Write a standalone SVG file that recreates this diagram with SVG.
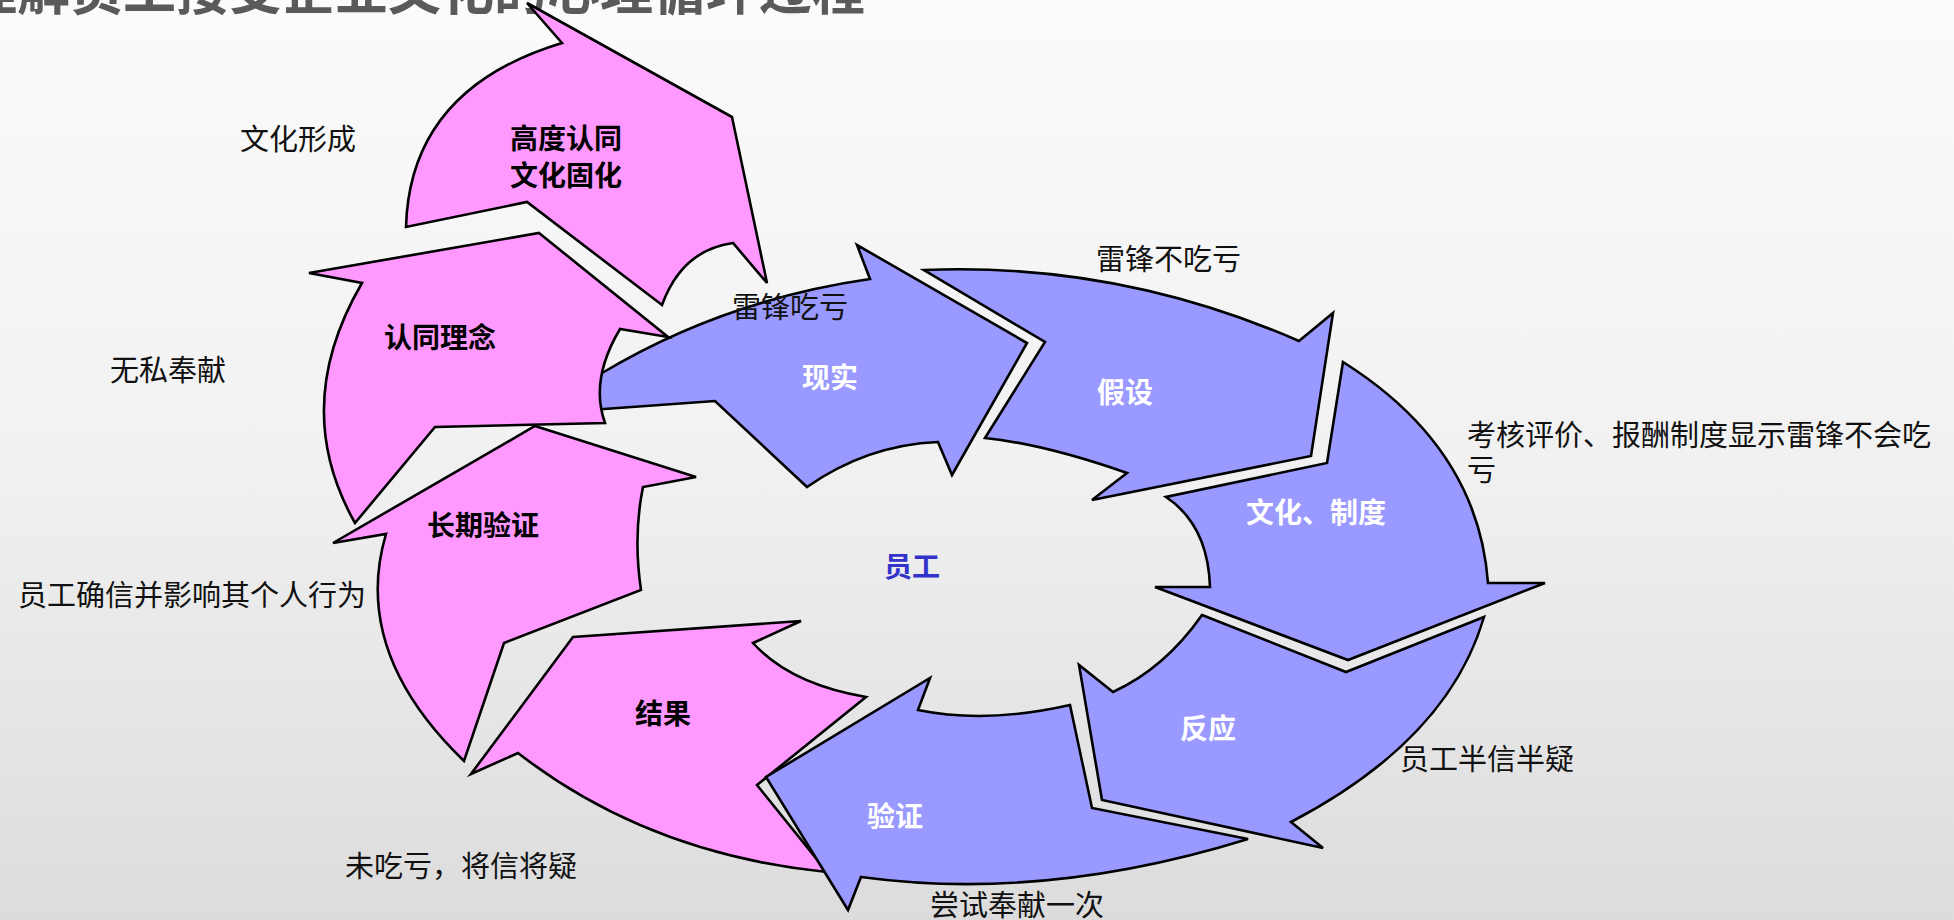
<svg xmlns="http://www.w3.org/2000/svg" width="1954" height="920" viewBox="0 0 1954 920">
<defs>
<linearGradient id="bg" x1="0" y1="0" x2="0" y2="1">
<stop offset="0" stop-color="#fbfbfb"/>
<stop offset="0.5" stop-color="#f1f1f1"/>
<stop offset="1" stop-color="#dcdcdc"/>
</linearGradient>
<style>
.pink{fill:#ff99ff;stroke:#000;stroke-width:2.6;stroke-linejoin:miter}
.blue{fill:#9999ff;stroke:#000;stroke-width:2.6;stroke-linejoin:miter}
.lbl{font-family:"Noto Sans CJK SC","Noto Sans",sans-serif;font-size:28px;font-weight:bold;text-anchor:middle;dominant-baseline:central}
.dark{fill:#000}
.white{fill:#fff}
.note{font-family:"Noto Sans CJK SC","Noto Sans",sans-serif;font-size:29px;fill:#111;dominant-baseline:central}
.title{font-family:"Noto Sans CJK SC","Noto Sans",sans-serif;font-size:53px;font-weight:bold;fill:#5a5a5a}
</style>
</defs>
<rect x="0" y="0" width="1954" height="920" fill="url(#bg)"/>
<text class="title" x="-36" y="10">理解员工接受企业文化的心理循环过程</text>

<g id="n-xianshi">
<path class="blue" d="M602,373 Q724,300 870,279 L857,245 L1027,343 L952,475 L938,442 Q867,445 807,487 L715,401 L604,409 L590,410 L588,376 Z"/>
<text class="lbl white" x="830" y="376">现实</text>
</g>
<g id="n-rentong">
<path class="pink" d="M539,233 L668,337 L620,329 Q589.5,380 605,423 L435,427 L355,523 Q289.5,407 362,283 L309,273 Z"/>
<text class="lbl dark" x="440" y="336">认同理念</text>
</g>
<g id="n-gaodu">
<path class="pink" d="M732,117 L527,3 L562,43 Q410,89 406,227 L527,202 L662,305 Q682,250 733,243 L767,283 Z"/>
<text class="lbl dark" x="566" y="137">高度认同</text>
<text class="lbl dark" x="566" y="174">文化固化</text>
</g>
<g id="n-changqi">
<path class="pink" d="M535,426 L696,477 L643,487 Q633,536 641,590 L504,643 L464,761 Q351,652 386,534 L333,543 Z"/>
<text class="lbl dark" x="483" y="524">长期验证</text>
</g>
<g id="n-jieguo">
<path class="pink" d="M573,637 L801,621 L753,643 Q790,684 866,697 L757,785 L827,872 Q648,854 518,753 L471,774 Z"/>
<text class="lbl dark" x="663" y="712">结果</text>
</g>
<g id="n-jiashe">
<path class="blue" d="M924,270 Q1118,262 1299,341 L1333,313 L1311,456 L1092,500 L1127,473 Q1044,444 985,438 L1045,342 Z"/>
<text class="lbl white" x="1125" y="391">假设</text>
</g>
<g id="n-zhidu">
<path class="blue" d="M1343,362 Q1478,447 1488,583 L1545,583 L1348,660 L1155,587 L1210,587 Q1208,525 1166,497 L1327,463 Z"/>
<text class="lbl white" x="1316" y="511">文化、制度</text>
</g>
<g id="n-fanying">
<path class="blue" d="M1202,615 L1346,672 L1484,617 Q1448,740 1291,822 L1323,848 L1102,800 L1079,665 L1113,692 Q1165,668 1202,615 Z"/>
<text class="lbl white" x="1208" y="727">反应</text>
</g>
<g id="n-yanzheng">
<path class="blue" d="M1248,839 L1092,808 L1070,705 Q986,724 918,710 L930,678 L766,777 L848,910 L861,877 Q1045,902 1248,839 Z"/>
<text class="lbl white" x="895" y="815">验证</text>
</g>
<g id="n-yuangong">
<text class="lbl" x="912" y="565" fill="#3333cc">员工</text>
</g>

<g id="notes">
<text class="note" x="240" y="137">文化形成</text>
<text class="note" x="110" y="368">无私奉献</text>
<text class="note" x="18" y="593">员工确信并影响其个人行为</text>
<text class="note" x="732" y="305">雷锋吃亏</text>
<text class="note" x="1096" y="257">雷锋不吃亏</text>
<text class="note" x="1467" y="433">考核评价、报酬制度显示雷锋不会吃</text>
<text class="note" x="1467" y="468">亏</text>
<text class="note" x="1400" y="757">员工半信半疑</text>
<text class="note" x="930" y="903">尝试奉献一次</text>
<text class="note" x="345" y="864">未吃亏，将信将疑</text>
</g>
<g id="connectors"></g>
</svg>
